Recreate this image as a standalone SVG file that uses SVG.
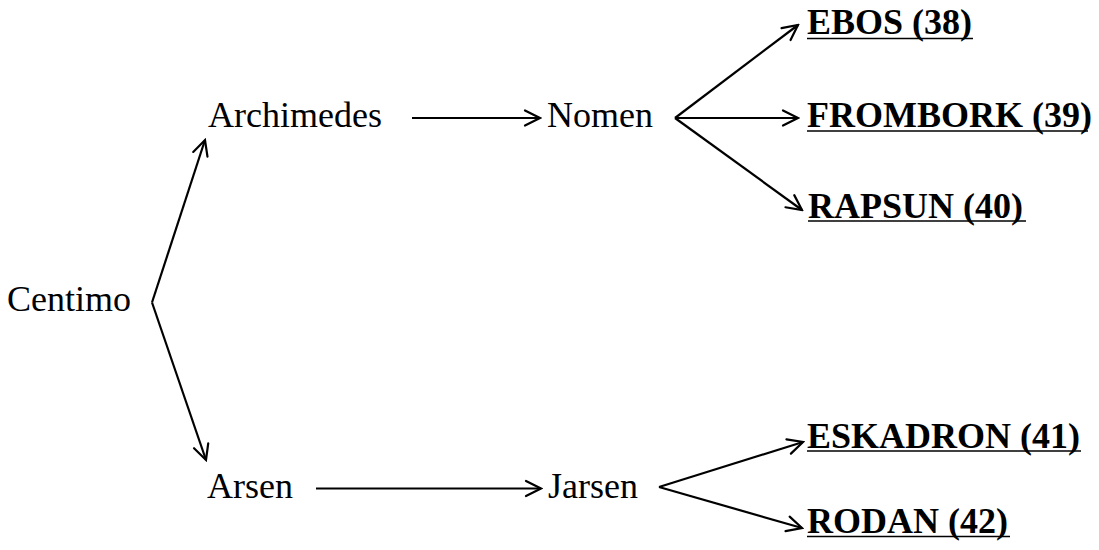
<svg xmlns="http://www.w3.org/2000/svg" width="1099" height="550" viewBox="0 0 1099 550">
<style>
text{font-family:"Liberation Serif","Times New Roman",serif;font-size:36px;fill:#000}
.b{font-weight:bold}
.u{stroke:#000;stroke-width:1.5}
.c{stroke:#000;stroke-width:2.2;fill:none;marker-end:url(#ah)}
</style>
<defs>
<marker id="ah" markerUnits="userSpaceOnUse" viewBox="-18 -10 20 20" refX="0" refY="0" markerWidth="20" markerHeight="20" orient="auto">
<path d="M-15,-7.5 L0,0 L-15,7.5" fill="none" stroke="#000" stroke-width="2.2" stroke-linecap="round" stroke-linejoin="miter"/>
</marker>
</defs>
<rect width="1099" height="550" fill="#fff"/>
<g id="connectors">
<path class="c" d="M152,302.5 L205,140"/>
<path class="c" d="M152,302.5 L206,460"/>
<path class="c" d="M412,118 L540,118"/>
<path class="c" d="M316,488.5 L541,488.5"/>
<path class="c" d="M675,118 L798,25"/>
<path class="c" d="M675,118 L798,118"/>
<path class="c" d="M675,118 L802,210"/>
<path class="c" d="M659,487 L803,442"/>
<path class="c" d="M659,487 L802,528"/>
</g>
<g id="centimo"><text x="7" y="310.5">Centimo</text></g>
<g id="archimedes"><text x="208" y="127">Archimedes</text></g>
<g id="nomen"><text x="547" y="127">Nomen</text></g>
<g id="arsen"><text x="207" y="497.5">Arsen</text></g>
<g id="jarsen"><text x="548" y="497.5">Jarsen</text></g>
<g id="ebos"><text class="b" x="807" y="34">EBOS (38)</text><line class="u" x1="807" y1="38.5" x2="973" y2="38.5"/></g>
<g id="frombork"><text class="b" x="807" y="127">FROMBORK (39)</text><line class="u" x1="807" y1="131" x2="1088" y2="131"/></g>
<g id="rapsun"><text class="b" x="808" y="218">RAPSUN (40)</text><line class="u" x1="808" y1="221" x2="1026" y2="221"/></g>
<g id="eskadron"><text class="b" x="807" y="448">ESKADRON (41)</text><line class="u" x1="807" y1="451" x2="1081" y2="451"/></g>
<g id="rodan"><text class="b" x="807" y="533">RODAN (42)</text><line class="u" x1="807" y1="536.5" x2="1010" y2="536.5"/></g>
</svg>
